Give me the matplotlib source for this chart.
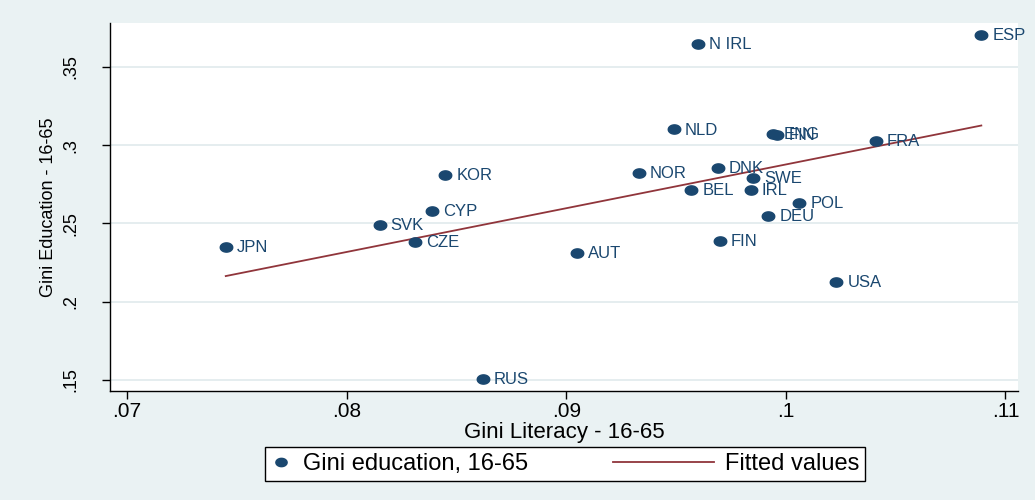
import numpy as np
import matplotlib
matplotlib.use("Agg")
import matplotlib.pyplot as plt
from matplotlib.path import Path
from matplotlib.legend_handler import HandlerLine2D

plt.rcParams['font.family'] = ['Liberation Sans', 'DejaVu Sans']

countries = ["JPN", "SVK", "CZE", "CYP", "KOR", "RUS", "AUT", "NOR", "NLD", "N IRL",
             "BEL", "DNK", "FIN", "SWE", "IRL", "ENG", "FIN", "DEU", "POL", "USA",
             "FRA", "ESP"]
gini_literacy = [0.0745, 0.0815, 0.0831, 0.0839, 0.0845, 0.0862, 0.0905, 0.0933, 0.0949, 0.0960,
                 0.0957, 0.0969, 0.0970, 0.0985, 0.0984, 0.0994, 0.0996, 0.0992, 0.1006, 0.1023,
                 0.1041, 0.1089]
gini_education = [0.235, 0.249, 0.238, 0.258, 0.281, 0.1506, 0.231, 0.2822, 0.310, 0.3646,
                  0.2713, 0.2854, 0.2388, 0.279, 0.2713, 0.307, 0.3065, 0.2547, 0.263, 0.2126,
                  0.3026, 0.3703]

x_ticks = [0.07, 0.08, 0.09, 0.10, 0.11]
x_tick_labels = [".07", ".08", ".09", ".1", ".11"]
y_ticks = [0.15, 0.20, 0.25, 0.30, 0.35]
y_tick_labels = [".15", ".2", ".25", ".3", ".35"]

navy = "#1A476F"
maroon = "#90353B"
bg = "#EAF2F3"

x = np.array(gini_literacy)
y = np.array(gini_education)
slope, intercept = np.polyfit(x, y, 1)
fx = np.array([x.min(), x.max()])
fy = slope * fx + intercept

# slightly wide ellipse marker, like the stretched original
t = np.linspace(0, 2 * np.pi, 40)
ellipse = Path(np.column_stack([1.35 * np.cos(t), np.sin(t)]), closed=True)

fig = plt.figure(figsize=(10.35, 5), dpi=100, facecolor=bg)
ax = fig.add_axes([110 / 1035, 109 / 500, 908 / 1035, 368 / 500])
ax.set_facecolor("white")

for v in y_ticks:
    ax.axhline(v, color="#E3ECEE", lw=1.3, zorder=0)

pts, = ax.plot(x, y, linestyle="none", marker=ellipse, markersize=9,
               color=navy, label="Gini education, 16-65", zorder=3)
fit, = ax.plot(fx, fy, color=maroon, lw=1.3, label="Fitted values", zorder=2)

for name, xi, yi in zip(countries, x, y):
    ax.annotate(name, (xi, yi), xytext=(8, -0.5), textcoords="offset points",
                va="center", ha="left", fontsize=12, color=navy)

ax.set_xlim(0.06923, 0.11057)
ax.set_ylim(0.14298, 0.37797)
ax.set_xticks(x_ticks)
ax.set_xticklabels(x_tick_labels, fontsize=15)
ax.set_yticks(y_ticks)
ax.set_yticklabels(y_tick_labels, fontsize=13, rotation=90, va="center")
ax.tick_params(axis="both", direction="out", length=6, width=1, color="black")
ax.tick_params(axis="x", pad=2)
ax.tick_params(axis="y", pad=16)

for side in ["top", "right"]:
    ax.spines[side].set_visible(False)
for side in ["left", "bottom"]:
    ax.spines[side].set_linewidth(1)
    ax.spines[side].set_color("black")

ax.set_xlabel("Gini Literacy - 16-65", fontsize=16, va="center")
ax.xaxis.set_label_coords(0.5, -0.112)
ax.set_ylabel("Gini Education - 16-65", fontsize=13, va="center")
ax.yaxis.set_label_coords(-0.0675, 0.5)


class WideLine(HandlerLine2D):
    def create_artists(self, legend, orig_handle, xdescent, ydescent, width,
                       height, fontsize, trans):
        extra = 3.4 * fontsize
        return super().create_artists(legend, orig_handle, xdescent + extra, ydescent,
                                      width + extra, height, fontsize, trans)


leg = fig.legend([pts, fit], ["Gini education, 16-65", "Fitted values"],
                 handler_map={fit: WideLine()}, loc="center",
                 bbox_to_anchor=(565 / 1035, 1 - 464 / 500), ncol=2, fontsize=17,
                 handlelength=0.9, handletextpad=0.45, columnspacing=7.0,
                 borderpad=0.25, fancybox=False, frameon=True, framealpha=1,
                 markerscale=0.9)
leg.get_frame().set_edgecolor("black")
leg.get_frame().set_linewidth(1)
leg.get_frame().set_facecolor("white")

fig.savefig("out.png", dpi=100, facecolor=bg)
